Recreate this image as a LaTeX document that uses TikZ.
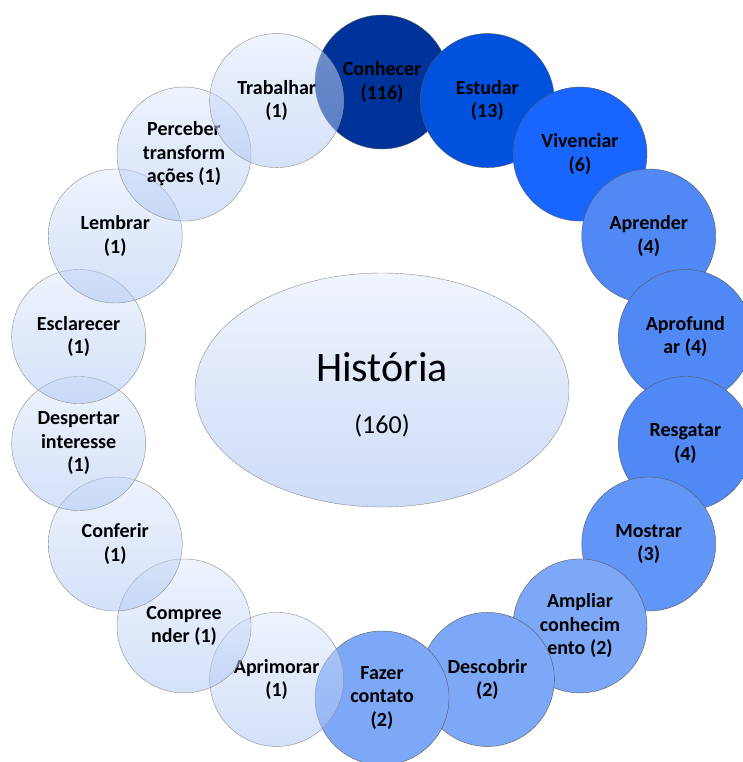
\documentclass[tikz,border=0pt]{standalone}
\usepackage{fontspec}
\setmainfont{Carlito}
\usetikzlibrary{shapes.geometric,calc}
\definecolor{navy}{RGB}{0,51,153}
\definecolor{royal}{RGB}{0,82,222}
\definecolor{bright}{RGB}{25,102,255}
\definecolor{mid}{RGB}{80,136,245}
\definecolor{soft}{RGB}{98,150,246}
\definecolor{light}{RGB}{125,168,248}
\definecolor{paletop}{RGB}{222,232,251}
\definecolor{palebot}{RGB}{168,195,242}
\definecolor{elltop}{RGB}{240,244,253}
\definecolor{ellbot}{RGB}{204,219,247}

\begin{document}
\begin{tikzpicture}[x=1pt, y=1pt,
    main/.style = {draw=black!65, circle, minimum size=134pt, inner sep=0pt, align=center,
      font=\fontsize{20}{23.5}\selectfont\bfseries},
    pale/.style = {main, draw=black!45, top color=paletop, bottom color=palebot,
      fill opacity=0.5, text opacity=1},
    ell/.style = {draw=black!45, ellipse, minimum width=374pt, minimum height=234pt,
      inner sep=0pt, align=center, top color=elltop, bottom color=ellbot}]
  \useasboundingbox (0,0) rectangle (743,-762);
  \coordinate (c) at (382,-390);
  % centre
  \node[ell] (0) at (c) {{\fontsize{42}{42}\selectfont\rule{0pt}{39pt}Hist\'oria}\\[32pt]
    {\fontsize{26}{26}\selectfont (160)}};
  % ring, clockwise from the top
  \node[main, fill=navy] (1) at ($(c)+(90:308)$) {Conhecer\\(116)};
  \node[main, fill=royal] (2) at ($(c)+(70:308)$) {Estudar\\(13)};
  \node[main, fill=bright] (3) at ($(c)+(50:308)$) {Vivenciar\\(6)};
  \node[main, fill=mid] (4) at ($(c)+(30:308)$) {Aprender\\(4)};
  \node[main, fill=mid] (5) at ($(c)+(10:308)$) {Aprofund\\ar (4)};
  \node[main, fill=mid] (6) at ($(c)+(-10:308)$) {Resgatar\\(4)};
  \node[main, fill=soft] (7) at ($(c)+(-30:308)$) {Mostrar\\(3)};
  \node[main, fill=light] (8) at ($(c)+(-50:308)$) {Ampliar\\conhecim\\ento (2)};
  \node[main, fill=light] (9) at ($(c)+(-70:308)$) {Descobrir\\(2)};
  \node[main, fill=light] (10) at ($(c)+(-90:308)$) {Fazer\\contato\\(2)};
  \node[pale] (11) at ($(c)+(-110:308)$) {Aprimorar\\(1)};
  \node[pale] (12) at ($(c)+(-130:308)$) {Compree\\nder (1)};
  \node[pale] (13) at ($(c)+(-150:308)$) {Conferir\\(1)};
  \node[pale] (14) at ($(c)+(-170:308)$) {Despertar\\interesse\\(1)};
  \node[pale] (15) at ($(c)+(170:308)$) {Esclarecer\\(1)};
  \node[pale] (16) at ($(c)+(150:308)$) {Lembrar\\(1)};
  \node[pale] (17) at ($(c)+(130:308)$) {Perceber\\transform\\a\c{c}\~oes (1)};
  \node[pale] (18) at ($(c)+(110:308)$) {Trabalhar\\(1)};
\end{tikzpicture}
\end{document}
